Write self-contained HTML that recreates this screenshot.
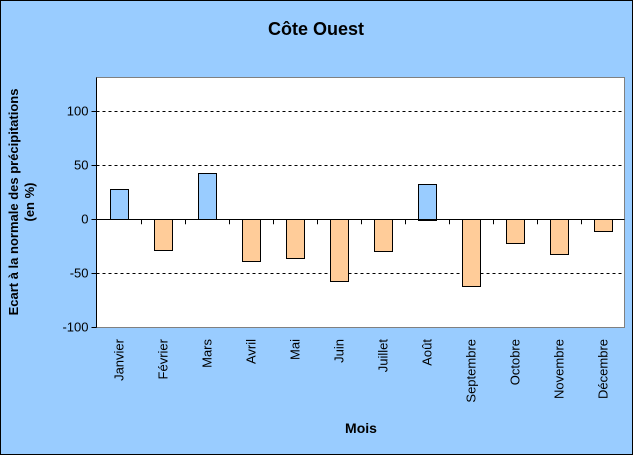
<!DOCTYPE html>
<html><head><meta charset="utf-8"><style>
body{margin:0;background:#99ccff;}
svg{display:block;font-family:"Liberation Sans",Arial,sans-serif;}
</style></head><body>
<svg width="633" height="455" id="c">
<rect x="0.5" y="0.5" width="632" height="454" fill="#99ccff" stroke="#000"/>
<text x="316" y="35" text-anchor="middle" font-size="18" font-weight="bold">Côte Ouest</text>
<rect x="96.5" y="77.5" width="528" height="250" fill="#fff" stroke="#808080"/>
<g id="grid"></g><g id="bars"></g><g id="axes"></g>
<text x="361" y="433" text-anchor="middle" font-size="14" font-weight="bold">Mois</text>
<text transform="translate(18,202) rotate(-90)" text-anchor="middle" font-size="13" font-weight="bold"><tspan x="0" dy="0">Ecart à la normale des précipitations</tspan><tspan x="0" dy="16">(en %)</tspan></text>
</svg>
<script>
const categories=["Janvier","Février","Mars","Avril","Mai","Juin","Juillet","Août","Septembre","Octobre","Novembre","Décembre"];
const values=[28,-29,43,-39,-36,-57,-30,33,-62,-22,-32,-11];
const yTicks=[100,50,0,-50,-100];
const NS="http://www.w3.org/2000/svg";
const left=96.5,catW=44,barW=18;
function y(v){return 219.3-1.08*v;}
function x(i){return left+catW*i+catW/2;}
function mk(t,a,p){const e=document.createElementNS(NS,t);for(const k in a)e.setAttribute(k,a[k]);p.appendChild(e);return e;}
const grid=document.getElementById('grid'),bars=document.getElementById('bars'),axes=document.getElementById('axes');
yTicks.forEach(v=>{
  if(v!==0&&v!==-100){const l=mk('line',{x1:left,x2:624.5,y1:Math.round(y(v))+0.5,y2:Math.round(y(v))+0.5,stroke:'#000','stroke-dasharray':'3,3'},grid);
  
  }
  const tk=mk('line',{x1:left-5,x2:left,y1:Math.round(y(v))+0.5,y2:Math.round(y(v))+0.5,stroke:'#000'},axes);
  
  
  const t=mk('text',{x:left-8,y:y(v)+4,'text-anchor':'end','font-size':13},axes);
  t.textContent=v;
  
  
});
values.forEach((v,i)=>{
  const top=v>=0?y(v):y(0),h=Math.abs(y(v)-y(0));
  const r=mk('rect',{x:Math.round(x(i)-barW/2)+0.5,y:Math.round(top)+0.5,width:barW,height:Math.round(h),fill:v>=0?'#99ccff':'#ffcc99',stroke:'#000'},bars);
  
  
});
const zl=mk('line',{x1:left,x2:624.5,y1:Math.round(y(0))+0.5,y2:Math.round(y(0))+0.5,stroke:'#000'},axes);


const ya=mk('line',{x1:left,x2:left,y1:77.5,y2:327.5,stroke:'#000'},axes);


categories.forEach((c,i)=>{
  if(i>0){const tk=mk('line',{x1:Math.round(left+catW*i)+0.5,x2:Math.round(left+catW*i)+0.5,y1:y(0),y2:y(0)+5,stroke:'#000'},axes);
  
  }
  const t=mk('text',{transform:`translate(${x(i)+5},339) rotate(-90)`,'text-anchor':'end','font-size':13},axes);
  t.textContent=c;
  
  
});
</script>
</body></html>
